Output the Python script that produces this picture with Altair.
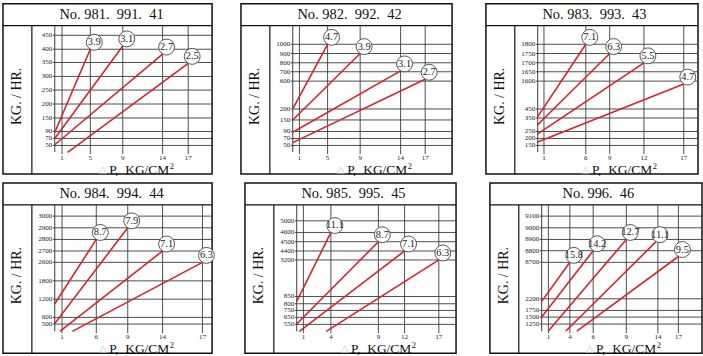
import altair as alt
import pandas as pd

FONT = "Liberation Serif"
RED = "#d3232b"
GRID = "#3a3a3a"
NB = "\u00a0"

# ---------------- data ----------------
titles = ["No. 981.  991.  41", "No. 982.  992.  42", "No. 983.  993.  43",
          "No. 984.  994.  44", "No. 985.  995.  45", "No. 996.  46"]

x_ticks = [
    [1, 5, 9, 14, 17],
    [1, 5, 9, 14, 17],
    [1, 6, 9, 12, 17],
    [1, 6, 9, 14, 17],
    [1, 4, 9, 12, 17],
    [1, 4, 6, 9, 14, 17],
]
y_ticks = [
    [50, 70, 90, 150, 200, 250, 300, 350, 400, 450],
    [50, 70, 90, 150, 200, 600, 700, 800, 900, 1000],
    [150, 200, 250, 350, 450, 1600, 1650, 1700, 1750, 1800],
    [500, 600, 1200, 1800, 2600, 2700, 2800, 2900, 3000],
    [550, 650, 750, 800, 850, 3200, 4400, 4500, 4600, 5000],
    [1250, 1500, 1750, 2200, 8700, 8800, 8900, 9000, 9100],
]

line_labels = [
    ["3.9", "3.1", "2.7", "2.5"],
    ["4.7", "3.9", "3.1", "2.7"],
    ["7.1", "6.3", "5.5", "4.7"],
    ["8.7", "7.9", "7.1", "6.3"],
    ["11.1", "8.7", "7.1", "6.3"],
    ["15.8", "14.2", "12.7", "11.1", "9.5"],
]
start_dp = [
    [0, 0, 0, 1.8],
    [0, 0, 0, 0],
    [0, 0, 0, 0],
    [0, 0, 0.7, 2.5],
    [0, 0, 0.4, 3.5],
    [0, 0, 1, 3.45, 4.6],
]
start_flow = [
    [88, 70, 52, 30],
    [200, 150, 88, 58],
    [365, 300, 233, 174],
    [1050, 510, 390, 390],
    [816, 555, 450, 450],
    [2100, 1500, 1000, 1000, 1000],
]
end_dp = [
    [5, 9, 14, 17],
    [5, 9, 14, 17],
    [6, 9, 12, 17],
    [6, 9, 14, 17],
    [4, 9, 12, 17],
    [4, 6, 9, 13.7, 17],
]
end_flow = [
    [400, 412, 382, 347],
    [1000, 900, 710, 620],
    [1800, 1750, 1700, 1480],
    [2800, 2900, 2700, 2600],
    [4600, 4500, 4400, 3200],
    [8700, 8800, 8900, 8880, 8750],
]

# ---------------- layout (pixel positions of the printed ticks) ----------------
x_tick_px = [
    [7.3, 35.7, 68.3, 108.3, 134],
    [6.7, 35, 67.7, 108.3, 133],
    [6.3, 48.3, 72.3, 106.7, 146.7],
    [7.3, 41.7, 73.3, 108.3, 148.3],
    [6.7, 34.3, 82, 108.3, 142.7],
    [6.7, 28.3, 51.7, 85, 116.7, 137.3],
]
y_tick_px_from_bottom = [
    [6.7, 13.7, 20.7, 34.3, 48.3, 62.3, 76, 90, 103.3, 117.3],
    [6.7, 13.7, 20.7, 32.3, 43.3, 71.3, 80.7, 89.7, 99, 108.3],
    [6.7, 13.7, 20.7, 34.3, 43.3, 71.3, 80.7, 89.7, 99, 108.3],
    [7.3, 14, 32.3, 50.7, 69.3, 80.7, 92.3, 104, 115.7],
    [7, 14, 21, 27.7, 35, 71.7, 80.7, 90, 99.3, 111],
    [7.3, 14.3, 21, 32.7, 69.3, 81, 92.3, 104, 115.7],
]
H = 127
LEFT = 52
COL_W = [158, 160, 161]


def panel(i, W):
    xs = alt.Scale(domain=[0] + x_ticks[i], range=[0] + x_tick_px[i], nice=False, zero=False)
    ys = alt.Scale(domain=y_ticks[i], range=[H - p for p in y_tick_px_from_bottom[i]],
                   nice=False, zero=False)
    df = pd.DataFrame({
        "label": line_labels[i],
        "x0": start_dp[i], "y0": start_flow[i],
        "x1": end_dp[i], "y1": end_flow[i],
    })
    xt_df = pd.DataFrame({"v": x_ticks[i]})
    yt_df = pd.DataFrame({"v": y_ticks[i]})
    one = pd.DataFrame({"k": [0]})

    box = alt.Chart(one).mark_rect(fillOpacity=0, stroke="#111", strokeWidth=1.5).encode(
        x=alt.value(-LEFT), x2=alt.value(W), y=alt.value(-22), y2=alt.value(H + 22))
    hdiv = alt.Chart(one).mark_rule(color="#111", strokeWidth=1.2).encode(
        x=alt.value(-LEFT), x2=alt.value(W), y=alt.value(0))
    vdiv = alt.Chart(one).mark_rule(color="#111", strokeWidth=1.2).encode(
        x=alt.value(-23), y=alt.value(0), y2=alt.value(H + 22))
    yline = alt.Chart(one).mark_rule(color=GRID, strokeWidth=1).encode(
        x=alt.value(0), y=alt.value(0), y2=alt.value(H))

    # grid lines and tick labels, placed through the same scales
    ygrid = alt.Chart(yt_df).mark_rule(color=GRID, strokeWidth=0.9).encode(
        y=alt.Y("v:Q", scale=ys, axis=None), x=alt.value(-2), x2=alt.value(W))
    xgrid = alt.Chart(xt_df).mark_rule(color=GRID, strokeWidth=0.9).encode(
        x=alt.X("v:Q", scale=xs, axis=None), y=alt.value(0), y2=alt.value(H + 2))
    ylab = alt.Chart(yt_df).mark_text(font=FONT, fontSize=7, color="#222",
                                      align="right", baseline="middle").encode(
        y=alt.Y("v:Q", scale=ys, axis=None), x=alt.value(-2.5), text=alt.Text("v:Q", format="d"))
    xlab = alt.Chart(xt_df).mark_text(font=FONT, fontSize=7, color="#222",
                                      align="center", baseline="top").encode(
        x=alt.X("v:Q", scale=xs, axis=None), y=alt.value(H + 1.5), text=alt.Text("v:Q", format="d"))

    lines = alt.Chart(df).mark_rule(color=RED, strokeWidth=1.6).encode(
        x=alt.X("x0:Q", scale=xs, axis=None), x2="x1:Q",
        y=alt.Y("y0:Q", scale=ys, axis=None), y2="y1:Q")
    circles = alt.Chart(df).mark_point(shape="circle", filled=True, fill="white", opacity=1,
                                       stroke="#555", strokeWidth=1, size=256,
                                       xOffset=4, yOffset=-7).encode(
        x=alt.X("x1:Q", scale=xs, axis=None), y=alt.Y("y1:Q", scale=ys, axis=None))
    labels = alt.Chart(df).mark_text(font=FONT, fontSize=10.5, color="#222",
                                     dx=4, dy=-7, baseline="middle", align="center").encode(
        x=alt.X("x1:Q", scale=xs, axis=None), y=alt.Y("y1:Q", scale=ys, axis=None),
        text="label:N")

    ttl = alt.Chart(one).mark_text(text=titles[i].replace(" ", NB), font=FONT, fontSize=14.5,
                                   color="#111", baseline="middle", align="center").encode(
        x=alt.value(57), y=alt.value(-10.5))
    ytitle = alt.Chart(one).mark_text(text="KG. / HR.".replace(" ", NB), font=FONT, fontSize=14,
                                      color="#111", angle=270, baseline="middle",
                                      align="center").encode(
        x=alt.value(-37.5), y=alt.value(71))
    xt = alt.Chart(one).mark_text(text="P,  KG/CM".replace(" ", NB), font=FONT, fontSize=13.5,
                                  color="#111", baseline="middle", align="right").encode(
        x=alt.value(115), y=alt.value(H + 17.5))
    sup = alt.Chart(one).mark_text(text="2", font=FONT, fontSize=8.5, color="#111",
                                   baseline="middle", align="left").encode(
        x=alt.value(115.5), y=alt.value(H + 13.5))
    tri = alt.Chart(one).mark_text(text="△", font="DejaVu Sans", fontSize=10, color="#bdbdbd",
                                   baseline="middle", align="right").encode(
        x=alt.value(52), y=alt.value(H + 18))

    return alt.layer(box, hdiv, vdiv, yline, xgrid, ygrid, ylab, xlab, lines, circles, labels,
                     ttl, ytitle, xt, sup, tri).properties(width=W, height=H)


p = [panel(i, COL_W[i % 3]) for i in range(6)]
row1 = alt.hconcat(alt.hconcat(p[0], p[1], spacing=27), p[2], spacing=32)
row2 = alt.hconcat(alt.hconcat(p[3], p[4], spacing=27), p[5], spacing=32)

chart = alt.vconcat(row1, row2, spacing=6).properties(
    padding={"left": 2, "top": 2, "right": 0, "bottom": 0},
    background="white",
).configure_view(strokeOpacity=0)

chart.save("out.html", embed_options={"renderer": "svg", "actions": False})
